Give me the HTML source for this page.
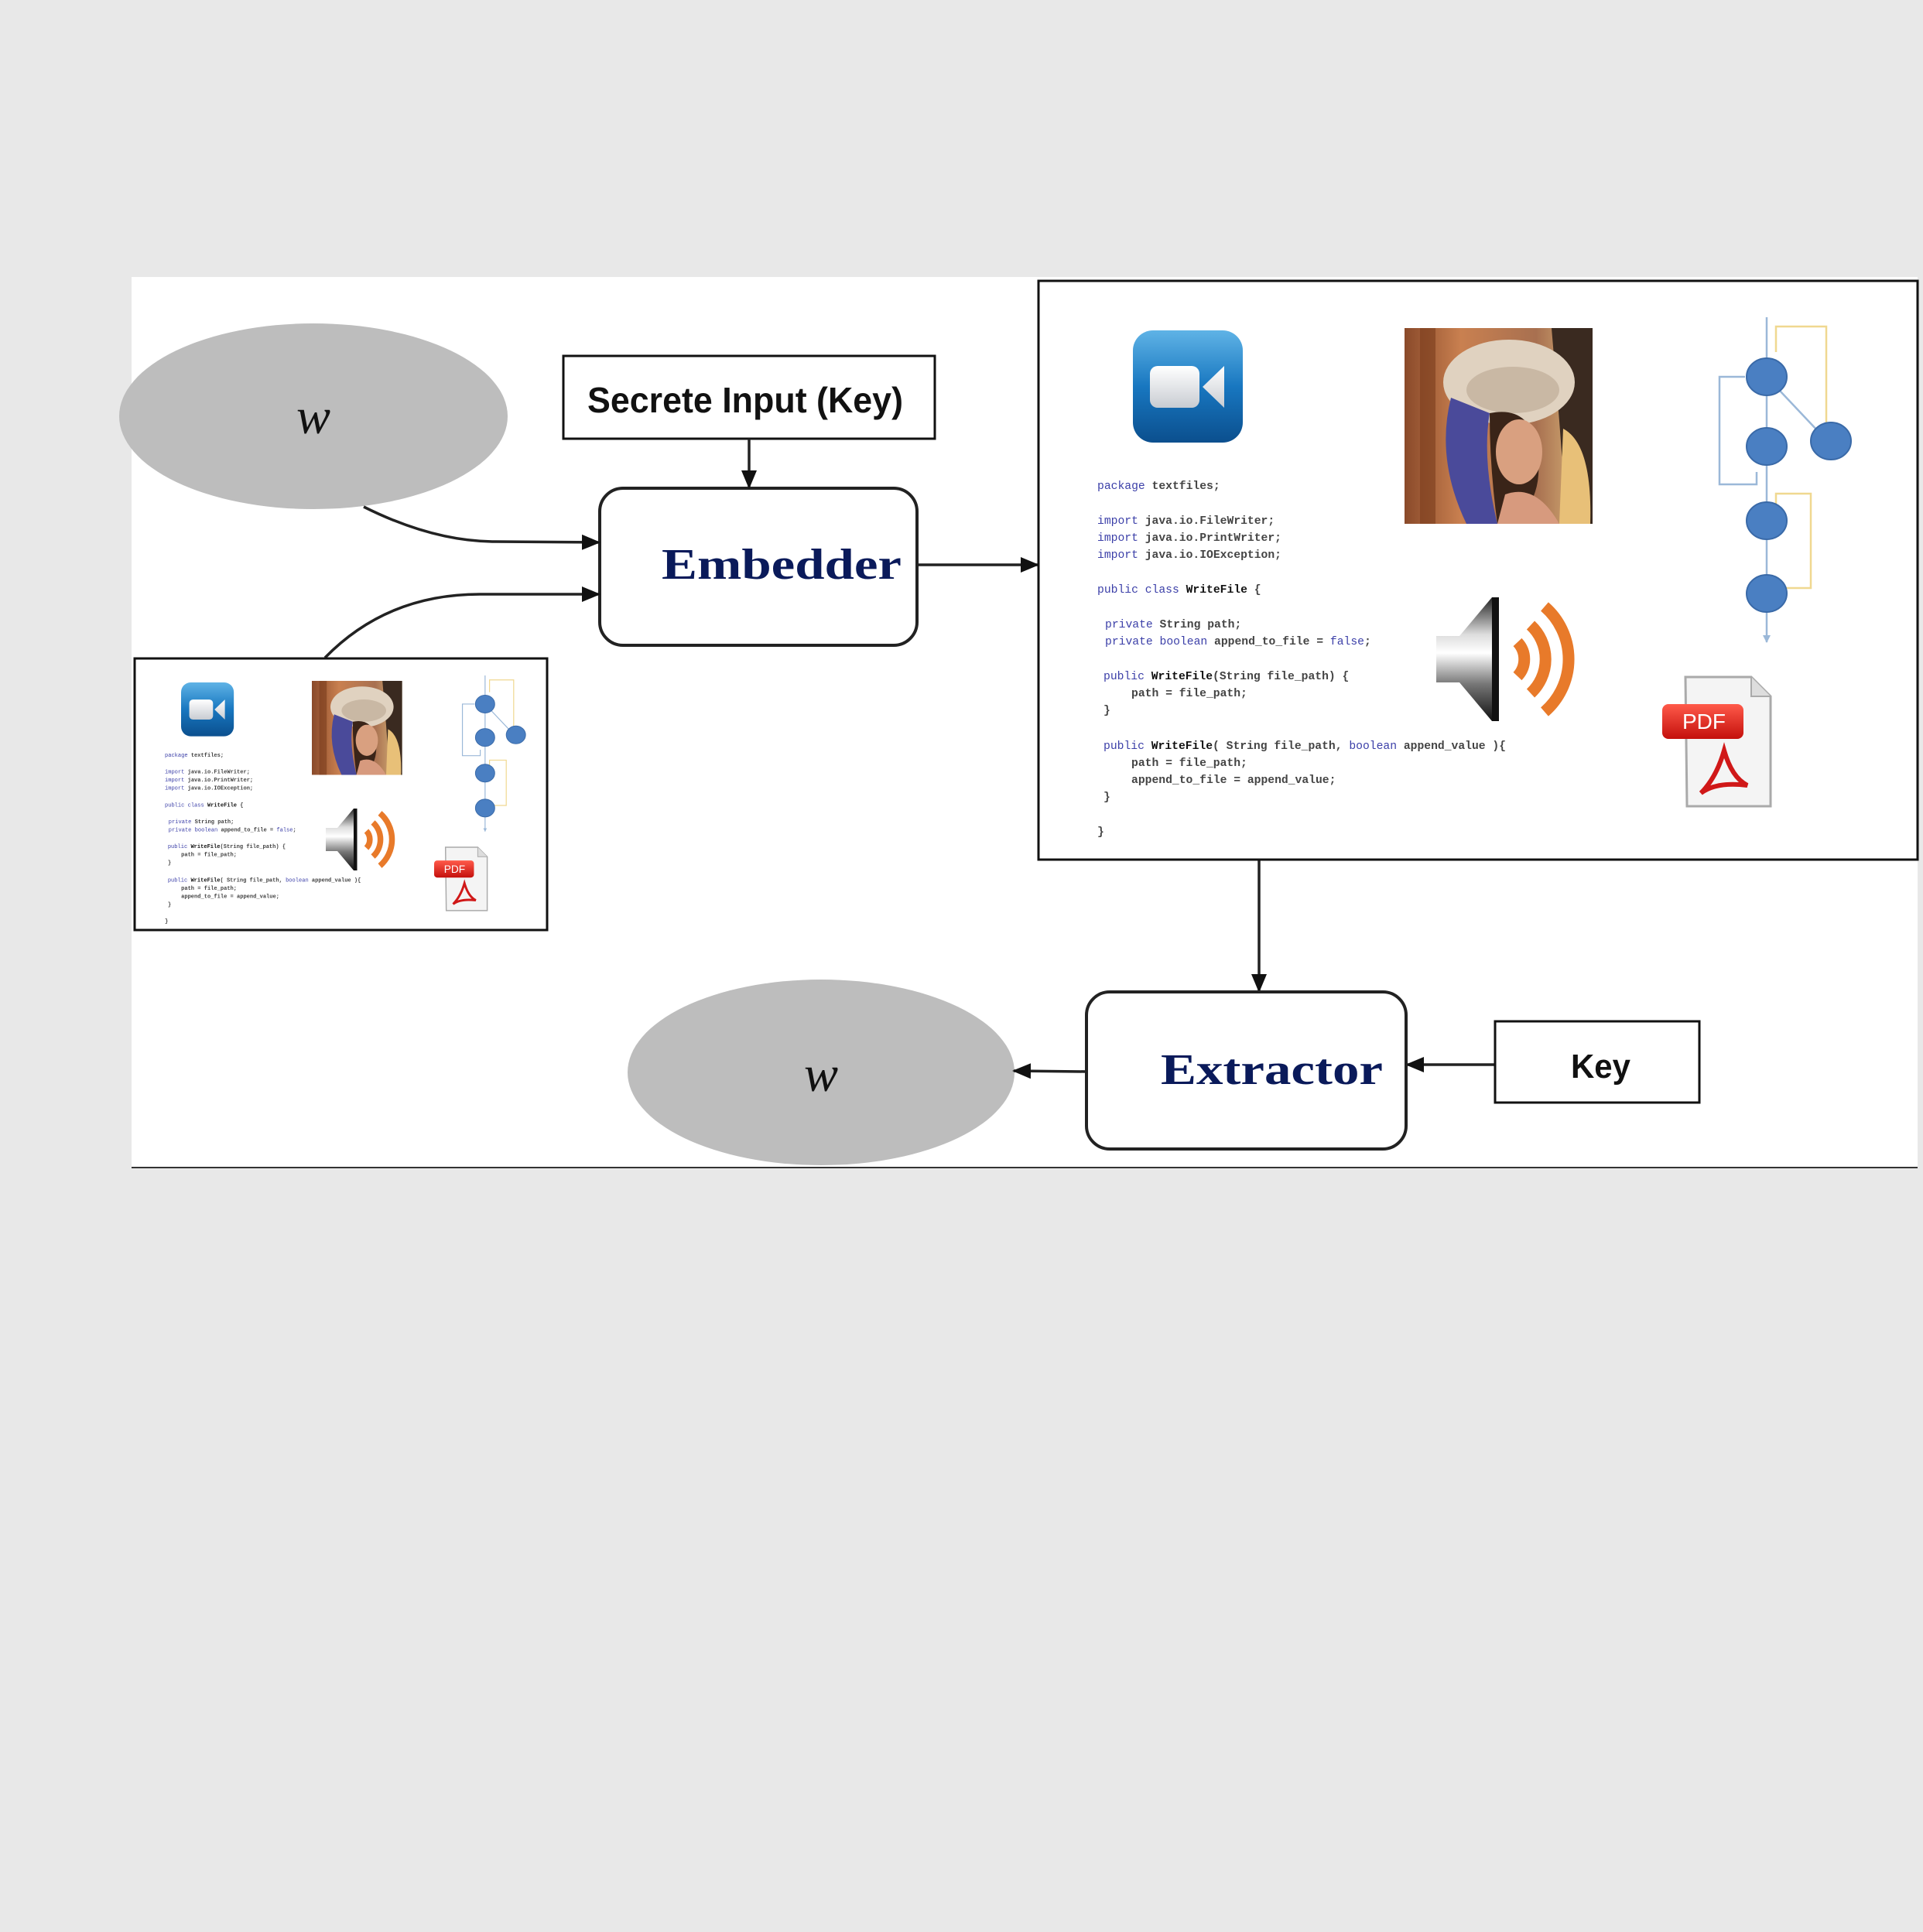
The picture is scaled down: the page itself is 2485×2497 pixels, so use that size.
<!DOCTYPE html>
<html><head><meta charset="utf-8"><style>
html,body{margin:0;padding:0;background:#e8e8e8;}
svg{display:block;}
.code{font-family:"Liberation Mono",monospace;font-size:14.7px;fill:#444;font-weight:bold;}
.kw{fill:#3b3fa8;font-weight:normal;}
.b{fill:#111;font-weight:bold;}
</style></head><body>
<svg width="2485" height="2497" viewBox="0 0 2485 2497" xmlns="http://www.w3.org/2000/svg">
<defs>
<linearGradient id="vg" x1="0" y1="0" x2="0" y2="1"><stop offset="0" stop-color="#5fb3e6"/><stop offset="0.5" stop-color="#1877c0"/><stop offset="1" stop-color="#0b4f8e"/></linearGradient>
<linearGradient id="cg" x1="0" y1="0" x2="0" y2="1"><stop offset="0" stop-color="#ffffff"/><stop offset="1" stop-color="#c8ccd2"/></linearGradient>
<linearGradient id="sg" x1="0" y1="0" x2="0" y2="1"><stop offset="0" stop-color="#222"/><stop offset="0.3" stop-color="#ddd"/><stop offset="0.45" stop-color="#fff"/><stop offset="0.7" stop-color="#777"/><stop offset="1" stop-color="#111"/></linearGradient>
<linearGradient id="rg" x1="0" y1="0" x2="0" y2="1"><stop offset="0" stop-color="#ff5a4a"/><stop offset="1" stop-color="#c4100c"/></linearGradient>
<linearGradient id="lbg" x1="0" y1="0" x2="1" y2="0"><stop offset="0" stop-color="#8a4a2a"/><stop offset="0.3" stop-color="#c98050"/><stop offset="0.7" stop-color="#a87050"/><stop offset="1" stop-color="#e0c080"/></linearGradient>
<marker id="ah" markerWidth="24" markerHeight="20" refX="22" refY="10" orient="auto" markerUnits="userSpaceOnUse"><path d="M0,0 L24,10 L0,20 z" fill="#111"/></marker>
<marker id="sh" markerWidth="10" markerHeight="10" refX="9" refY="5" orient="auto" markerUnits="userSpaceOnUse"><path d="M0,0 L10,5 L0,10 z" fill="#9bb8d8"/></marker>
<g id="video">
<rect x="0" y="0" width="142" height="145" rx="26" fill="url(#vg)"/>
<rect x="22" y="46" width="64" height="54" rx="10" fill="url(#cg)"/>
<path d="M90,73 L118,46 L118,100 z" fill="url(#cg)"/>
</g>
<g id="lena">
<rect x="0" y="0" width="243" height="253" fill="url(#lbg)"/>
<rect x="20" y="0" width="20" height="253" fill="#7a3c1c" opacity="0.6"/>
<path d="M190,0 L243,0 L243,253 L210,253 L200,120 z" fill="#3a2a20"/>
<path d="M205,130 Q243,150 240,253 L200,253 z" fill="#e8c078"/>
<ellipse cx="135" cy="70" rx="85" ry="55" fill="#e0d2c0"/>
<ellipse cx="140" cy="80" rx="60" ry="30" fill="#c9b8a4"/>
<path d="M60,90 Q40,170 80,253 L120,253 Q100,170 110,110 z" fill="#4a4a9a"/>
<path d="M110,110 Q160,100 170,150 Q180,200 160,230 L120,253 Q110,180 110,110 z" fill="#3a2418"/>
<ellipse cx="148" cy="160" rx="30" ry="42" fill="#d9a080"/>
<path d="M130,215 Q170,200 200,253 L120,253 z" fill="#d79a7e"/>
</g>
<g id="speaker">
<path d="M0,50 L30,50 L72,0 L80,0 L80,160 L72,160 L30,110 L0,110 z" fill="url(#sg)"/>
<rect x="72" y="0" width="9" height="160" fill="#111"/>
<g fill="none" stroke="#e87a2a" stroke-width="15">
<path d="M105,58 A32,32 0 0 1 105,102"/>
<path d="M122,36 A60,60 0 0 1 122,124"/>
<path d="M140,12 A90,90 0 0 1 140,148"/>
</g>
</g>
<g id="pdf">
<path d="M30,0 L115,0 L140,25 L140,167 L32,167 z" fill="#f4f4f4" stroke="#aaa" stroke-width="3"/>
<path d="M115,0 L115,25 L140,25" fill="#ddd" stroke="#aaa" stroke-width="2"/>
<rect x="0" y="35" width="105" height="45" rx="8" fill="url(#rg)"/>
<path d="M80,95 Q70,130 50,150 Q70,135 110,140 Q90,130 80,95 z" fill="none" stroke="#d01818" stroke-width="6"/>
</g>
<g id="flow">
<g stroke="#9bb8d8" stroke-width="2.5" fill="none">
<line x1="83" y1="0" x2="83" y2="420" marker-end="url(#sh)"/>
<path d="M100,95 L150,148"/>
<path d="M70,200 L70,216 L22,216 L22,77 L55,77"/>
</g>
<g stroke="#f0d890" stroke-width="2.5" fill="none">
<path d="M95,45 L95,12 L160,12 L160,145"/>
<path d="M95,248 L95,228 L140,228 L140,350 L108,350"/>
</g>
<g fill="#4a7fc2" stroke="#3a6aa8" stroke-width="2">
<ellipse cx="83" cy="77" rx="26" ry="24"/>
<ellipse cx="83" cy="167" rx="26" ry="24"/>
<ellipse cx="166" cy="160" rx="26" ry="24"/>
<ellipse cx="83" cy="263" rx="26" ry="24"/>
<ellipse cx="83" cy="357" rx="26" ry="24"/>
</g>
</g>
</defs>

<rect x="0" y="0" width="2485" height="2497" fill="#e8e8e8"/>
<rect x="170" y="358" width="2308" height="1151" fill="#ffffff"/>
<line x1="170" y1="1509" x2="2478" y2="1509" stroke="#333" stroke-width="2"/>

<ellipse cx="405" cy="538" rx="251" ry="120" fill="#bdbdbd"/>
<text x="405" y="560" text-anchor="middle" font-family="'Liberation Serif',serif" font-style="italic" font-size="66" fill="#111">w</text>

<rect x="728" y="460" width="480" height="107" fill="#fff" stroke="#111" stroke-width="3"/>
<text x="759" y="533" font-family="'Liberation Sans',sans-serif" font-weight="bold" font-size="46" fill="#111" textLength="408" lengthAdjust="spacingAndGlyphs">Secrete Input (Key)</text>

<rect x="775" y="631" width="410" height="203" rx="30" fill="#fff" stroke="#222" stroke-width="4"/>
<text x="855" y="748" font-family="'Liberation Serif',serif" font-weight="bold" font-size="56" fill="#0a1a5a" textLength="310" lengthAdjust="spacingAndGlyphs">Embedder</text>

<g stroke="#222" stroke-width="3.5" fill="none">
<line x1="968" y1="567" x2="968" y2="630" marker-end="url(#ah)"/>
<path d="M470,655 Q560,700 640,700 L774,701" marker-end="url(#ah)"/>
<path d="M420,850 Q500,768 620,768 L774,768" marker-end="url(#ah)"/>
<line x1="1186" y1="730" x2="1341" y2="730" marker-end="url(#ah)"/>
<line x1="1627" y1="1111" x2="1627" y2="1281" marker-end="url(#ah)"/>
<line x1="1932" y1="1376" x2="1818" y2="1376" marker-end="url(#ah)"/>
</g>

<rect x="1342" y="363" width="1136" height="748" fill="#fff" stroke="#111" stroke-width="3"/>
<use href="#video" x="1464" y="427"/>
<use href="#lena" x="1815" y="424"/>
<use href="#flow" x="2200" y="410"/>
<use href="#speaker" x="1856" y="772"/>
<use href="#pdf" x="2148" y="875"/>
<text x="2174" y="942" font-family="'Liberation Sans',sans-serif" font-size="28" fill="#fff">PDF</text>

<g class="code">
<text x="1418" y="632"><tspan class="kw">package</tspan> textfiles;</text>
<text x="1418" y="677"><tspan class="kw">import</tspan> java.io.FileWriter;</text>
<text x="1418" y="699"><tspan class="kw">import</tspan> java.io.PrintWriter;</text>
<text x="1418" y="721"><tspan class="kw">import</tspan> java.io.IOException;</text>
<text x="1418" y="766"><tspan class="kw">public class</tspan> <tspan class="b">WriteFile</tspan> {</text>
<text x="1428" y="811"><tspan class="kw">private</tspan> String path;</text>
<text x="1428" y="833"><tspan class="kw">private boolean</tspan> append_to_file = <tspan class="kw">false</tspan>;</text>
<text x="1426" y="878"><tspan class="kw">public</tspan> <tspan class="b">WriteFile</tspan>(String file_path) {</text>
<text x="1462" y="900">path = file_path;</text>
<text x="1426" y="922">}</text>
<text x="1426" y="968"><tspan class="kw">public</tspan> <tspan class="b">WriteFile</tspan>( String file_path, <tspan class="kw">boolean</tspan> append_value ){</text>
<text x="1462" y="990">path = file_path;</text>
<text x="1462" y="1012">append_to_file = append_value;</text>
<text x="1426" y="1034">}</text>
<text x="1418" y="1079">}</text>
</g>

<rect x="174" y="851" width="533" height="351" fill="#fff" stroke="#111" stroke-width="3"/>
<g transform="translate(234,882) scale(0.48)"><use href="#video"/></g>
<g transform="translate(403,880) scale(0.48)"><use href="#lena"/></g>
<g transform="translate(587,873) scale(0.48)"><use href="#flow"/></g>
<g transform="translate(421,1045) scale(0.5)"><use href="#speaker"/></g>
<g transform="translate(561,1095) scale(0.49)"><use href="#pdf"/><text x="26" y="67" font-family="'Liberation Sans',sans-serif" font-size="28" fill="#fff">PDF</text></g>
<g transform="translate(213,978) scale(0.48) translate(-1418,-632)" class="code">
<text x="1418" y="632"><tspan class="kw">package</tspan> textfiles;</text>
<text x="1418" y="677"><tspan class="kw">import</tspan> java.io.FileWriter;</text>
<text x="1418" y="699"><tspan class="kw">import</tspan> java.io.PrintWriter;</text>
<text x="1418" y="721"><tspan class="kw">import</tspan> java.io.IOException;</text>
<text x="1418" y="766"><tspan class="kw">public class</tspan> <tspan class="b">WriteFile</tspan> {</text>
<text x="1428" y="811"><tspan class="kw">private</tspan> String path;</text>
<text x="1428" y="833"><tspan class="kw">private boolean</tspan> append_to_file = <tspan class="kw">false</tspan>;</text>
<text x="1426" y="878"><tspan class="kw">public</tspan> <tspan class="b">WriteFile</tspan>(String file_path) {</text>
<text x="1462" y="900">path = file_path;</text>
<text x="1426" y="922">}</text>
<text x="1426" y="968"><tspan class="kw">public</tspan> <tspan class="b">WriteFile</tspan>( String file_path, <tspan class="kw">boolean</tspan> append_value ){</text>
<text x="1462" y="990">path = file_path;</text>
<text x="1462" y="1012">append_to_file = append_value;</text>
<text x="1426" y="1034">}</text>
<text x="1418" y="1079">}</text>
</g>

<rect x="1404" y="1282" width="413" height="203" rx="30" fill="#fff" stroke="#222" stroke-width="4"/>
<text x="1500" y="1401" font-family="'Liberation Serif',serif" font-weight="bold" font-size="56" fill="#0a1a5a" textLength="287" lengthAdjust="spacingAndGlyphs">Extractor</text>

<rect x="1932" y="1320" width="264" height="105" fill="#fff" stroke="#111" stroke-width="3"/>
<text x="2030" y="1393" font-family="'Liberation Sans',sans-serif" font-weight="bold" font-size="44" fill="#111" textLength="77" lengthAdjust="spacingAndGlyphs">Key</text>

<ellipse cx="1061" cy="1386" rx="250" ry="120" fill="#bdbdbd"/>
<line x1="1403" y1="1385" x2="1310" y2="1384" stroke="#222" stroke-width="3.5" marker-end="url(#ah)"/>
<text x="1061" y="1410" text-anchor="middle" font-family="'Liberation Serif',serif" font-style="italic" font-size="66" fill="#111">w</text>
</svg>
</body></html>
